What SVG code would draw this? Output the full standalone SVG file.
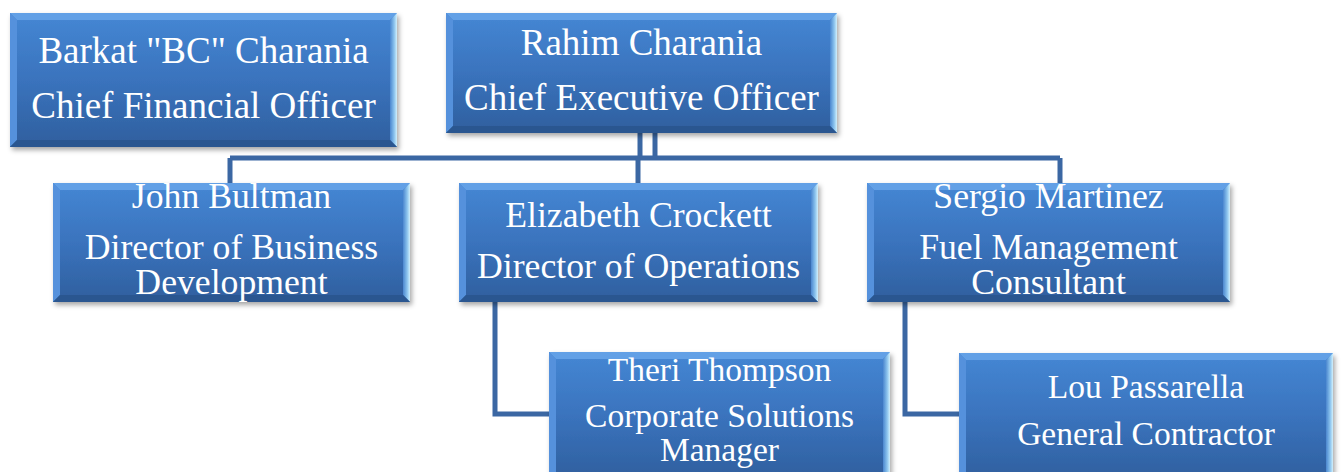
<svg xmlns="http://www.w3.org/2000/svg" width="1341" height="472" viewBox="0 0 1341 472">
<defs>
<linearGradient id="face" x1="0" y1="0" x2="0" y2="1">
<stop offset="0" stop-color="#4587d4"/>
<stop offset="0.5" stop-color="#3a73bd"/>
<stop offset="1" stop-color="#2f5f9e"/>
</linearGradient>
<linearGradient id="rbev" x1="0" y1="0" x2="1" y2="0">
<stop offset="0" stop-color="#4a86cf"/>
<stop offset="0.6" stop-color="#8cc4ee"/>
<stop offset="1" stop-color="#d2f0fc"/>
</linearGradient>
<filter id="sh" x="-5%" y="-5%" width="112%" height="120%">
<feDropShadow dx="2" dy="3" stdDeviation="2.5" flood-color="#000" flood-opacity="0.35"/>
</filter>
</defs>
<style>
.face{fill:url(#face)}
.bt{fill:#62a0e6}
.bl{fill:#5591dc}
.br{fill:url(#rbev)}
.bb{fill:#2b5690}
.edge{fill:none;stroke:#9fb6d0;stroke-width:1}
.box{filter:url(#sh)}
text{font-family:"Liberation Serif","Times New Roman",serif;fill:#ffffff;text-anchor:middle}
.t1{font-size:37px}
.t2{font-size:35.7px}
.t3{font-size:33.5px}
.conn path{fill:none;stroke:#3b67a3;stroke-width:5;stroke-linejoin:miter}
</style>
<rect width="1341" height="472" fill="#ffffff"/>
<g class="conn" id="connectors">
<path d="M640,133 V158"/>
<path d="M655,133 V158"/>
<path d="M230,158 H1060"/>
<path d="M230,158 V183"/>
<path d="M638,158 V183"/>
<path d="M1060,158 V183"/>
<path d="M495,302 V414 H549"/>
<path d="M905,302 V414 H959"/>
</g>
<g id="cfo">
<g class="box">
<rect class="face" x="10" y="13" width="387" height="134"/>
<polygon class="bt" points="10,13 397,13 390,20 17,20"/>
<polygon class="bl" points="10,13 17,20 17,140 10,147"/>
<polygon class="br" points="397,13 397,147 390,140 390,20"/>
<polygon class="bb" points="10,147 397,147 390,140 17,140"/>
</g>
<text class="t1" x="203.5" y="63">Barkat "BC" Charania</text>
<text class="t1" x="203.5" y="118">Chief Financial Officer</text>
</g>
<g id="ceo">
<g class="box">
<rect class="face" x="446" y="13" width="391" height="120"/>
<polygon class="bt" points="446,13 837,13 830,20 453,20"/>
<polygon class="bl" points="446,13 453,20 453,126 446,133"/>
<polygon class="br" points="837,13 837,133 830,126 830,20"/>
<polygon class="bb" points="446,133 837,133 830,126 453,126"/>
</g>
<text class="t1" x="641.5" y="55">Rahim Charania</text>
<text class="t1" x="641.5" y="110">Chief Executive Officer</text>
</g>
<g id="john">
<g class="box">
<rect class="face" x="53" y="183" width="357" height="119"/>
<polygon class="bt" points="53,183 410,183 403,190 60,190"/>
<polygon class="bl" points="53,183 60,190 60,295 53,302"/>
<polygon class="br" points="410,183 410,302 403,295 403,190"/>
<polygon class="bb" points="53,302 410,302 403,295 60,295"/>
</g>
<text class="t2" x="231.5" y="208">John Bultman</text>
<text class="t2" x="231.5" y="259">Director of Business</text>
<text class="t2" x="231.5" y="294">Development</text>
</g>
<g id="elizabeth">
<g class="box">
<rect class="face" x="459" y="183" width="359" height="119"/>
<polygon class="bt" points="459,183 818,183 811,190 466,190"/>
<polygon class="bl" points="459,183 466,190 466,295 459,302"/>
<polygon class="br" points="818,183 818,302 811,295 811,190"/>
<polygon class="bb" points="459,302 818,302 811,295 466,295"/>
</g>
<text class="t2" x="638.5" y="227">Elizabeth Crockett</text>
<text class="t2" x="638.5" y="278">Director of Operations</text>
</g>
<g id="sergio">
<g class="box">
<rect class="face" x="867" y="183" width="363" height="119"/>
<polygon class="bt" points="867,183 1230,183 1223,190 874,190"/>
<polygon class="bl" points="867,183 874,190 874,295 867,302"/>
<polygon class="br" points="1230,183 1230,302 1223,295 1223,190"/>
<polygon class="bb" points="867,302 1230,302 1223,295 874,295"/>
</g>
<text class="t2" x="1048.5" y="208">Sergio Martinez</text>
<text class="t2" x="1048.5" y="259">Fuel Management</text>
<text class="t2" x="1048.5" y="294">Consultant</text>
</g>
<g id="theri">
<g class="box">
<rect class="face" x="549" y="352" width="341" height="128"/>
<polygon class="bt" points="549,352 890,352 883,359 556,359"/>
<polygon class="bl" points="549,352 556,359 556,480 549,480"/>
<polygon class="br" points="890,352 890,480 883,480 883,359"/>
</g>
<text class="t3" x="719.5" y="381">Theri Thompson</text>
<text class="t3" x="719.5" y="427">Corporate Solutions</text>
<text class="t3" x="719.5" y="461">Manager</text>
</g>
<g id="lou">
<g class="box">
<rect class="face" x="959" y="353" width="374" height="128"/>
<polygon class="bt" points="959,353 1333,353 1326,360 966,360"/>
<polygon class="bl" points="959,353 966,360 966,481 959,481"/>
<polygon class="br" points="1333,353 1333,481 1326,481 1326,360"/>
</g>
<text class="t3" x="1146" y="398">Lou Passarella</text>
<text class="t3" x="1146" y="445">General Contractor</text>
</g>
</svg>
